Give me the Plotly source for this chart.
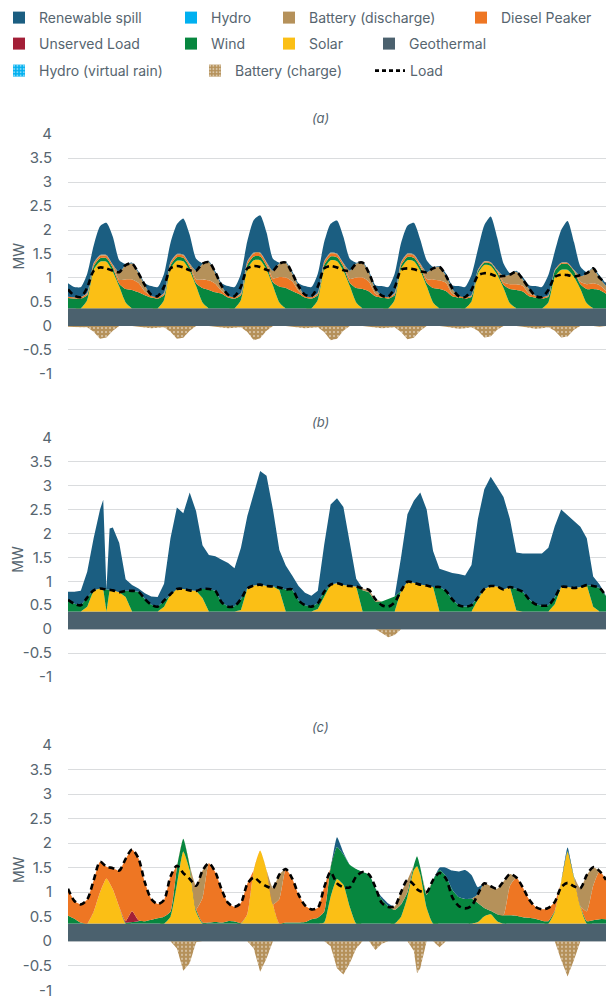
import plotly.graph_objects as go

# ---------------------------------------------------------------- data
# Panel (a) : time stamps every 2 h
hours_a = list(range(0, 169, 2))
geothermal_a = 0.37
solar_a = [0,0,0,0.17,0.8,0.97,0.97,0.76,0.45,0.12,0,0,
           0,0,0,0.17,0.82,0.99,0.98,0.78,0.46,0.12,0,0,
           0,0,0,0.17,0.82,1.0,1.0,0.8,0.47,0.12,0,0,
           0,0,0,0.17,0.82,1.0,0.98,0.78,0.46,0.12,0,0,
           0,0,0,0.17,0.82,1.0,0.98,0.78,0.46,0.12,0,0,
           0,0,0,0.14,0.72,0.9,0.88,0.7,0.42,0.1,0,0,
           0,0,0,0.12,0.65,0.8,0.8,0.65,0.4,0.1,0,0,
           0]
wind_a = [0.21,0.2,0.2,0.1,0.07,0.07,0.07,0.08,0.06,0.28,0.38,0.33,
          0.27,0.22,0.2,0.1,0.07,0.07,0.07,0.08,0.06,0.3,0.38,0.33,
          0.3,0.22,0.2,0.1,0.08,0.08,0.08,0.08,0.07,0.33,0.42,0.36,
          0.3,0.22,0.2,0.1,0.08,0.08,0.08,0.08,0.07,0.3,0.4,0.35,
          0.25,0.22,0.2,0.1,0.07,0.07,0.07,0.08,0.07,0.3,0.4,0.36,
          0.25,0.22,0.2,0.1,0.05,0.05,0.05,0.06,0.07,0.3,0.38,0.35,
          0.25,0.22,0.2,0.12,0.12,0.12,0.12,0.12,0.1,0.3,0.4,0.38,
          0.3]
diesel_a = [0.03,0.03,0.03,0.03,0.05,0.05,0.05,0.05,0.08,0.2,0.22,0.2,
            0.08,0.04,0.03,0.03,0.05,0.05,0.05,0.05,0.08,0.18,0.2,0.18,
            0.06,0.04,0.03,0.03,0.06,0.06,0.06,0.06,0.08,0.2,0.22,0.2,
            0.06,0.04,0.03,0.03,0.06,0.06,0.06,0.06,0.08,0.22,0.24,0.2,
            0.05,0.04,0.03,0.03,0.05,0.05,0.05,0.05,0.08,0.18,0.18,0.17,
            0.05,0.04,0.03,0.02,0.02,0.02,0.02,0.03,0.05,0.1,0.12,0.12,
            0.05,0.04,0.03,0.02,0.02,0.02,0.02,0.02,0.05,0.1,0.12,0.1,
            0.06]
battery_dis_a = [0,0,0,0.02,0.02,0.02,0.02,0.02,0.16,0.3,0.33,0.2,
                 0.13,0,0,0.02,0.02,0.02,0.02,0.02,0.18,0.32,0.38,0.22,
                 0.1,0,0,0.02,0.02,0.02,0.02,0.02,0.16,0.28,0.31,0.17,
                 0.1,0,0,0.02,0.02,0.02,0.02,0.02,0.17,0.29,0.31,0.18,
                 0.1,0,0,0.02,0.02,0.02,0.02,0.02,0.14,0.23,0.28,0.15,
                 0.1,0,0,0.01,0.01,0.01,0.01,0.01,0.13,0.2,0.26,0.13,
                 0.1,0,0,0.01,0.01,0.01,0.01,0.01,0.12,0.22,0.31,0.15,
                 0.1]
spill_a = [0.28,0.21,0.21,0.4,0.36,0.6,0.67,0.58,0.25,0.02,0.02,0.04,
           0.04,0.2,0.21,0.4,0.4,0.62,0.75,0.6,0.25,0.02,0.02,0.04,
           0.06,0.2,0.21,0.4,0.42,0.68,0.78,0.62,0.25,0.02,0.02,0.04,
           0.06,0.2,0.21,0.4,0.4,0.6,0.69,0.55,0.25,0.02,0.02,0.04,
           0.08,0.2,0.21,0.4,0.4,0.58,0.66,0.5,0.25,0.03,0.02,0.05,
           0.08,0.2,0.21,0.42,0.43,0.75,0.95,0.68,0.26,0.03,0.02,0.05,
           0.08,0.2,0.21,0.42,0.38,0.68,0.87,0.58,0.2,0.03,0.02,0.05,
           0.05]
battery_chg_a = [-0.02,-0.03,-0.03,-0.03,-0.12,-0.27,-0.24,-0.1,0,0,0,-0.02,
                 -0.04,-0.05,-0.04,-0.03,-0.12,-0.27,-0.25,-0.1,0,0,0,-0.02,
                 -0.04,-0.05,-0.04,-0.03,-0.13,-0.3,-0.26,-0.1,0,0,0,-0.02,
                 -0.04,-0.05,-0.04,-0.03,-0.13,-0.3,-0.27,-0.1,0,0,0,-0.02,
                 -0.04,-0.05,-0.04,-0.03,-0.13,-0.28,-0.25,-0.1,0,0,0,-0.02,
                 -0.04,-0.06,-0.05,-0.03,-0.1,-0.24,-0.22,-0.08,0,0,0,-0.02,
                 -0.04,-0.06,-0.05,-0.03,-0.1,-0.24,-0.22,-0.08,0,0,0,-0.02,
                 0]
load_a = [0.76,0.63,0.6,0.8,1.15,1.22,1.2,1.15,1.12,1.27,1.3,1.1,
          0.85,0.65,0.62,0.82,1.2,1.25,1.22,1.16,1.15,1.3,1.33,1.12,
          0.83,0.65,0.62,0.82,1.2,1.25,1.23,1.17,1.15,1.3,1.32,1.1,
          0.83,0.65,0.62,0.82,1.2,1.25,1.22,1.16,1.15,1.3,1.32,1.1,
          0.78,0.63,0.61,0.8,1.17,1.2,1.18,1.14,1.12,1.2,1.23,1.05,
          0.78,0.62,0.6,0.75,1.05,1.1,1.08,1.03,1.04,1.07,1.13,0.97,
          0.78,0.62,0.6,0.75,1.02,1.07,1.06,1.03,1.06,1.1,1.2,1.0,
          0.9]

# Panel (b)
hours_b = [0,2,4,6,8,10,11,12,13,14,16,18,20,22,
           24,26,28,30,32,34,36,38,40,42,44,46,
           48,50,52,54,56,58,60,62,64,66,68,70,
           72,74,76,78,80,82,84,86,88,90,92,94,
           96,98,100,102,104,106,108,110,112,114,116,118,
           120,122,124,126,128,130,132,134,136,138,140,142,
           144,146,148,150,152,154,156,158,160,162,164,166,168]
geothermal_b = 0.37
solar_b = [0,0,0,0.1,0.44,0.48,0.47,0,0.45,0.44,0.4,0.3,0,0,
           0,0,0,0.1,0.36,0.47,0.47,0.44,0.43,0.28,0,0,
           0,0,0,0.03,0.48,0.54,0.56,0.53,0.52,0.45,0,0,
           0,0,0,0.05,0.3,0.56,0.59,0.55,0.53,0.52,0,0,
           0,0,0,0,0.43,0.62,0.6,0.56,0.54,0.51,0,0,
           0,0,0,0,0.25,0.47,0.53,0.52,0.46,0.51,0.02,0,
           0,0,0,0,0.15,0.51,0.51,0.49,0.51,0.55,0.1,0,0]
wind_b = [0.24,0.16,0.13,0.19,0,0,0,0.46,0,0,0,0.13,0.43,0.41,
          0.26,0.14,0.1,0.13,0,0,0,0,0,0.19,0.47,0.43,
          0.19,0.1,0.11,0.23,0,0,0,0,0,0.05,0.46,0.46,
          0.23,0.13,0.1,0.12,0.11,0,0,0,0,0,0.44,0.4,
          0.2,0.21,0.26,0.31,0,0,0,0,0,0,0.51,0.43,
          0.25,0.13,0.1,0.13,0.04,0,0,0,0,0,0.45,0.41,
          0.25,0.15,0.12,0.13,0.14,0,0,0,0,0,0.43,0.49,0.32]
battery_dis_b = [0,0,0,0,0,0,0,0,0,0,0,0,0,0,
                 0,0,0,0,0,0,0,0,0,0,0,0,
                 0,0,0,0,0,0,0,0,0,0,0,0,
                 0,0,0,0,0,0,0,0,0,0,0.04,0.05,
                 0.05,0,0,0,0,0,0,0,0,0,0,0,
                 0,0,0,0,0,0,0,0,0,0,0,0,
                 0,0,0,0,0,0,0,0,0,0,0,0,0]
spill_b = [0.17,0.25,0.3,0.54,1.09,1.65,1.86,0,1.28,1.31,1.03,0.24,0.12,0.07,
           0.12,0.17,0.2,0.35,1.17,1.7,1.58,2.04,1.66,0.91,0.71,0.72,
           0.89,0.91,0.79,1.07,1.51,1.94,2.37,2.3,1.61,0.78,0.5,0.29,
           0.3,0.26,0.23,0.26,0.98,1.67,1.77,1.63,0.9,0.16,0,0,
           0,0,0,0,0.7,1.41,1.71,1.92,1.59,0.75,0.38,0.42,
           0.55,0.65,0.65,0.84,1.64,2.08,2.28,2.08,1.93,1.42,0.76,0.8,
           0.96,1.06,1.09,1.2,1.49,1.62,1.5,1.4,1.26,0.98,0.2,0.07,0.01]
battery_chg_b = [0,0,0,0,0,0,0,0,0,0,0,0,0,0,
                 0,0,0,0,0,0,0,0,0,0,0,0,
                 0,0,0,0,0,0,0,0,0,0,0,0,
                 0,0,0,0,0,0,0,0,0,0,0,0,
                 0,-0.08,-0.17,-0.12,0,0,0,0,0,0,0,0,
                 0,0,0,0,0,0,0,0,0,0,0,0,
                 0,0,0,0,0,0,0,0,0,0,0,0,0]
load_b = [0.61,0.53,0.5,0.66,0.81,0.85,0.84,0.83,0.82,0.81,0.77,0.8,0.8,0.78,
          0.63,0.51,0.47,0.6,0.73,0.84,0.84,0.81,0.8,0.84,0.84,0.8,
          0.56,0.47,0.48,0.63,0.85,0.91,0.93,0.9,0.89,0.87,0.83,0.83,
          0.6,0.5,0.47,0.54,0.78,0.93,0.96,0.92,0.9,0.89,0.85,0.82,
          0.62,0.5,0.47,0.56,0.8,0.99,0.97,0.93,0.91,0.88,0.88,0.8,
          0.62,0.5,0.47,0.5,0.66,0.84,0.9,0.89,0.83,0.88,0.84,0.78,
          0.62,0.52,0.49,0.5,0.66,0.88,0.88,0.86,0.88,0.92,0.9,0.86,0.69]

# Panel (c)
hours_c = [0,2,4,6,8,10,12,14,16,18,20,22,
           24,26,28,30,32,34,36,38,40,42,44,46,
           48,50,52,54,56,58,60,62,64,66,68,70,
           72,74,76,78,80,82,84,86,88,90,92,94,
           96,98,100,102,104,106,108,109,110,112,114,116,118,
           120,122,124,126,128,130,132,134,136,138,140,142,
           144,146,148,150,152,154,156,158,160,162,164,166,168]
geothermal_c = 0.36
solar_c = [0,0,0,0,0.24,0.64,0.92,0.7,0.34,0,0,0,
           0,0,0,0,0.14,0.79,1.47,1.09,0.24,0,0,0,
           0,0,0,0,0.19,1.09,1.49,1.09,0.39,0,0,0,
           0,0,0,0,0.02,0.54,0.91,0.79,0.34,0,0,0,
           0,0,0,0,0.14,0.54,1.09,1.17,1.0,0.32,0,0,0,
           0,0,0,0,0.03,0.15,0.19,0.05,0,0,0,0,
           0,0,0,0,0.24,0.84,1.46,0.94,0.34,0,0,0,0]
wind_c = [0.16,0.1,0.02,0,0,0,0,0,0,0.02,0.03,0.05,
          0.05,0.08,0.11,0.14,0.1,0.35,0.26,0.1,0.05,0.02,0.02,0.03,
          0.02,0.05,0.04,0.01,0,0,0,0,0,0,0.02,0.02,
          0.02,0.03,0.09,0.12,0.22,0.6,0.65,0.62,0.86,1.11,1.05,1.0,
          0.72,0.49,0.36,0.28,0.25,0.1,0.1,0.2,0.15,0.27,0.89,1.09,0.97,
          0.69,0.54,0.5,0.51,0.39,0.17,0.07,0.14,0.17,0.17,0.16,0.13,
          0.12,0.1,0.06,0.05,0.02,0.01,0.02,0.02,0.02,0.05,0.07,0.09,0.09]
unserved_c = [0,0,0,0,0,0,0,0,0,0.03,0.22,0.02,
              0,0,0,0,0,0,0,0,0,0,0,0,
              0,0,0,0,0,0,0,0,0,0,0,0,
              0,0,0,0,0,0,0,0,0,0,0,0,
              0,0,0,0,0,0,0,0,0,0,0,0,0,
              0,0,0,0,0,0,0,0,0,0,0,0,
              0,0,0,0,0,0,0,0,0,0,0,0,0]
diesel_c = [0.55,0.36,0.37,0.49,0.64,0.62,0.24,0.43,0.74,1.27,1.26,1.26,
            0.79,0.42,0.29,0.34,0.72,0.04,0,0,0,0.5,1.21,1.02,
            0.67,0.37,0.3,0.41,0.62,0,0,0,0,0.5,1.09,0.9,
            0.57,0.34,0.2,0.2,0.5,0,0,0,0,0,0,0,
            0,0,0,0,0,0,0,0,0,0,0,0,0,
            0,0,0,0,0,0,0,0,0,0.6,0.78,0.61,
            0.37,0.24,0.23,0.27,0.18,0,0,0,0,0.2,0.7,0.98,0.8]
battery_dis_c = [0,0,0,0,0,0,0,0,0,0,0,0,
                 0,0,0,0,0,0,0,0,0.48,0.56,0,0,
                 0,0,0,0,0,0,0,0,0.33,0.5,0,0,
                 0,0,0,0,0,0,0,0,0,0,0,0,
                 0,0,0,0.07,0.25,0.25,0,0,0,0.05,0,0,0,
                 0,0,0,0,0.18,0.5,0.5,0.52,0.69,0.24,0,0,
                 0,0,0,0,0,0,0,0,0.36,0.74,0.38,0,0]
spill_c = [0,0,0,0,0,0,0,0,0,0,0,0,
           0,0,0,0,0,0,0,0,0,0,0,0,
           0,0,0,0,0,0,0,0,0,0,0,0,
           0,0,0,0,0,0,0.2,0.04,0,0,0,0,
           0,0.05,0.05,0,0,0,0,0,0,0,0,0.05,0.17,
           0.39,0.52,0.59,0.48,0.14,0,0,0,0,0,0,0,
           0,0,0,0,0,0,0.07,0,0,0,0,0,0]
battery_chg_c = [0,0,0,0,0,0,0,0,0,0,0,0,
                 0,0,0,0,0,-0.15,-0.6,-0.45,-0.02,0,0,0,
                 0,0,0,0,0,-0.15,-0.62,-0.35,0,0,0,0,
                 0,0,0,0,0,-0.1,-0.55,-0.68,-0.45,-0.15,0,0,
                 -0.18,-0.05,0,0,0,0,-0.2,-0.65,-0.55,0,0,-0.12,0,
                 0,0,0,0,0,0,0,0,0,0,0,0,
                 0,0,0,0,0,-0.38,-0.72,-0.38,0,0,0,0,0]
load_c = [1.07,0.82,0.75,0.85,1.24,1.62,1.52,1.49,1.44,1.68,1.87,1.69,
          1.2,0.86,0.76,0.84,1.32,1.54,1.39,1.27,1.13,1.44,1.59,1.41,
          1.05,0.78,0.7,0.78,1.17,1.3,1.2,1.12,1.08,1.36,1.47,1.28,
          0.95,0.73,0.65,0.68,1.1,1.41,1.18,1.1,1.1,1.32,1.41,1.36,
          1.1,0.78,0.7,0.71,1.0,1.25,1.15,1.06,1.02,1.0,1.25,1.39,1.28,
          0.9,0.72,0.67,0.72,0.96,1.18,1.12,1.07,1.22,1.37,1.3,1.1,
          0.85,0.7,0.65,0.68,0.8,1.1,1.19,1.12,1.08,1.35,1.51,1.43,1.25]

y_tick_values = [-1, -0.5, 0, 0.5, 1, 1.5, 2, 2.5, 3, 3.5, 4]
y_tick_labels = ["-1", "-0.5", "0", "0.5", "1", "1.5", "2", "2.5", "3", "3.5", "4"]
panel_titles = ["(a)", "(b)", "(c)"]

# ---------------------------------------------------------------- styling
COL = {
    "spill": "#1b5e81", "hydro": "#00b0f0", "batt": "#b5915a",
    "diesel": "#ee7623", "unserved": "#a31f37", "wind": "#07873f",
    "solar": "#fbbf15", "geo": "#4b616e",
}
TXT = "#56656f"
FONT = "Inter, Open Sans, sans-serif"
W, H = 609, 999
L, R = 68, 3
PW = W - L - R

fig = go.Figure()


def add_panel(tag, xa, ya, hours, geo, solar, wind, unserved, diesel, bdis,
              spill, bchg, load, shape, smooth):
    n = len(hours)
    for arr in (solar, wind, unserved, diesel, bdis, spill, bchg, load):
        assert len(arr) == n, (tag, len(arr), n)
    common = dict(xaxis=xa, yaxis=ya, showlegend=False, hoverinfo="skip", mode="lines")
    # battery charging (negative)
    fig.add_trace(go.Scatter(
        x=hours, y=bchg, fill="tozeroy", fillcolor=COL["batt"],
        fillpattern=dict(shape=".", bgcolor=COL["batt"], fgcolor="white",
                         size=4, solidity=0.22),
        line=dict(width=0, color=COL["batt"]), **common))
    stack = [
        ("Geothermal", [geo] * n, COL["geo"]),
        ("Solar", solar, COL["solar"]),
        ("Wind", wind, COL["wind"]),
        ("Unserved Load", unserved, COL["unserved"]),
        ("Diesel Peaker", diesel, COL["diesel"]),
        ("Battery (discharge)", bdis, COL["batt"]),
        ("Renewable spill", spill, COL["spill"]),
    ]
    for name, vals, col in stack:
        if max(vals) <= 0:
            continue
        fig.add_trace(go.Scatter(
            x=hours, y=vals, name=name, stackgroup=tag, fillcolor=col,
            line=dict(width=0, color=col, shape=shape, smoothing=smooth),
            **common))
    fig.add_trace(go.Scatter(
        x=hours, y=load, name="Load",
        line=dict(color="black", width=2.6, dash="6px,4px", shape="spline", smoothing=0.8),
        **common))


add_panel("a", "x", "y", hours_a, geothermal_a, solar_a, wind_a, [0] * len(hours_a),
          diesel_a, battery_dis_a, spill_a, battery_chg_a, load_a, "spline", 0.6)
add_panel("b", "x2", "y2", hours_b, geothermal_b, solar_b, wind_b, [0] * len(hours_b),
          [0] * len(hours_b), battery_dis_b, spill_b, battery_chg_b, load_b, "linear", 0)
add_panel("c", "x3", "y3", hours_c, geothermal_c, solar_c, wind_c, unserved_c,
          diesel_c, battery_dis_c, spill_c, battery_chg_c, load_c, "spline", 0.5)

# ---------------------------------------------------------------- legend (one legend box per entry)
legend_items = [
    ("Renewable spill", "spill", None, 19, 17),
    ("Hydro", "hydro", None, 191, 17),
    ("Battery (discharge)", "batt", None, 289, 17),
    ("Diesel Peaker", "diesel", None, 481, 17),
    ("Unserved Load", "unserved", None, 19, 43),
    ("Wind", "wind", None, 191, 43),
    ("Solar", "solar", None, 289, 43),
    ("Geothermal", "geo", None, 389, 43),
    ("Hydro (virtual rain)", "hydro", "pattern", 19, 70),
    ("Battery (charge)", "batt", "pattern", 215, 70),
    ("Load", None, "line", 390, 70),
]
ICON_OFFSET = 20   # px from legend box left edge to icon centre
legend_layout = {}
for i, (label, ckey, kind, cx, cy) in enumerate(legend_items, start=1):
    lname = "legend" if i == 1 else f"legend{i}"
    if kind == "line":
        fig.add_trace(go.Scatter(x=[None], y=[None], mode="lines", name=label,
                                 line=dict(color="black", width=2.6, dash="4px,3px"),
                                 legend=lname, showlegend=True, xaxis="x", yaxis="y"))
    else:
        marker = dict(color=COL[ckey], line=dict(width=0))
        if kind == "pattern":
            marker["pattern"] = dict(shape=".", bgcolor=COL[ckey], fgcolor="white",
                                     size=4, solidity=0.3)
        fig.add_trace(go.Bar(x=[None], y=[None], name=label, marker=marker,
                             legend=lname, showlegend=True, xaxis="x", yaxis="y"))
    legend_layout[lname] = dict(
        x=(cx - ICON_OFFSET - L) / PW, y=1 - (cy + 1) / H, xref="paper", yref="container",
        xanchor="left", yanchor="middle", bgcolor="rgba(0,0,0,0)", borderwidth=0,
        font=dict(family=FONT, size=14, color=TXT), itemclick=False, itemdoubleclick=False)

# ---------------------------------------------------------------- axes
def ydom(top_px, bottom_px):
    return [1 - bottom_px / H, 1 - top_px / H]

panels = [  # (pixel of 4, pixel of -1, title y pixel)
    (134, 374, 118),
    (437.3, 677.3, 422),
    (744.8, 990.5, 727),
]
layout = dict(
    width=W, height=H, margin=dict(l=L, r=R, t=0, b=0, autoexpand=False),
    paper_bgcolor="white", plot_bgcolor="white", showlegend=True,
    font=dict(family=FONT, color=TXT), barmode="overlay",
)
annotations = []
for k, (top, bot, ty) in enumerate(panels):
    sx = "" if k == 0 else str(k + 1)
    layout["xaxis" + sx] = dict(domain=[0, 1], range=[0, 168], anchor="y" + sx,
                                showgrid=False, showticklabels=False, zeroline=False,
                                showline=False, ticks="", fixedrange=True)
    layout["yaxis" + sx] = dict(domain=ydom(top, bot), range=[-1.004, 4.004], anchor="x" + sx,
                                tickvals=y_tick_values, ticktext=y_tick_labels,
                                showgrid=True, gridcolor="#dadcde", gridwidth=1,
                                zeroline=False, showline=False, ticks="outside",
                                ticklen=12, tickcolor="rgba(0,0,0,0)",
                                ticklabeloverflow="allow",
                                tickfont=dict(family=FONT, size=15, color=TXT),
                                fixedrange=True)
    annotations.append(dict(text="<i>" + panel_titles[k] + "</i>", xref="paper", yref="paper",
                            x=(320 - L) / PW, y=1 - ty / H, showarrow=False,
                            font=dict(family=FONT, size=13, color=TXT),
                            xanchor="center", yanchor="middle"))
    annotations.append(dict(text="MW", xref="paper", yref="y" + sx,
                            x=(18 - L) / PW, y=1.45, showarrow=False,
                            textangle=-90, font=dict(family=FONT, size=14, color=TXT),
                            xanchor="center", yanchor="middle"))
layout["annotations"] = annotations
layout.update(legend_layout)
fig.update_layout(**layout)

# remove the page's default 8px body margin so the figure sits at the window origin
fig.write_html("out.html", config={"displayModeBar": False},
               post_script="document.body.style.margin='0px';")
